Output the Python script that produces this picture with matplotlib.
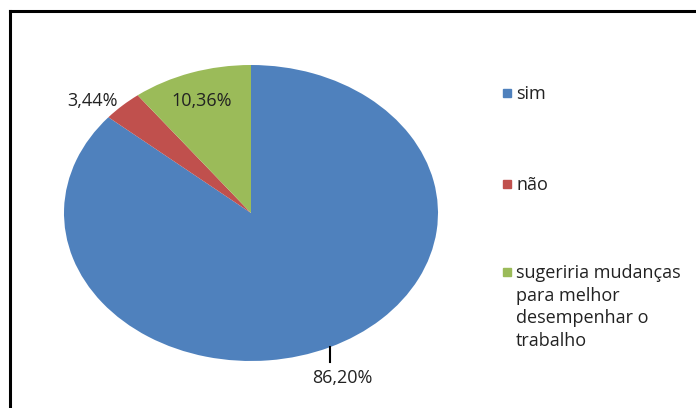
import numpy as np
import matplotlib
matplotlib.use("Agg")
import matplotlib.pyplot as plt
from matplotlib.lines import Line2D
from matplotlib.patches import Rectangle

# Respostas
labels = ["sim", "não", "sugeriria mudanças\npara melhor\ndesempenhar o\ntrabalho"]
values = [86.20, 3.44, 10.36]
pct_text = ["86,20%", "3,44%", "10,36%"]
colors = ["#4F81BD", "#C0504D", "#9BBB59"]

plt.rcParams["font.family"] = ["Open Sans", "DejaVu Sans"]
W, H = 696, 408
fig = plt.figure(figsize=(W / 100, H / 100), dpi=100)

def fx(px):
    return px / W

def fy(py):
    return 1 - py / H

# pie area (stretched horizontally like the original sheet)
ax = fig.add_axes([fx(64), fy(361), fx(438) - fx(64), fy(65) - fy(361)])
wedges, _ = ax.pie(values, colors=colors, startangle=90, counterclock=False,
                   radius=1, wedgeprops=dict(linewidth=0))
ax.set_aspect("auto")
ax.set_xlim(-1, 1)
ax.set_ylim(-1, 1)
ax.axis("off")

txt_color = "#222222"
fs = 13

def mid_angle(w):
    return np.deg2rad((w.theta1 + w.theta2) / 2)

# sim: leader line below the pie
a = mid_angle(wedges[0])
x0, y0 = np.cos(a), np.sin(a)
ax.plot([x0, x0], [y0, y0 - 0.1], color="black", lw=1.5, clip_on=False)
ax.text(x0 + 0.07, y0 - 0.21, pct_text[0], ha="center", va="center",
        fontsize=fs, color=txt_color, clip_on=False)

# não: outside label
a = mid_angle(wedges[1])
ax.text(1.17 * np.cos(a) - 0.04, 1.17 * np.sin(a) - 0.09, pct_text[1],
        ha="center", va="center", fontsize=fs, color=txt_color)

# sugeriria: inside label
a = mid_angle(wedges[2])
ax.text(0.8 * np.cos(a) - 0.01, 0.8 * np.sin(a), pct_text[2],
        ha="center", va="center", fontsize=fs, color=txt_color)

# legend
leg_y = [93, 184, 272]
for lab, c, yy in zip(labels, colors, leg_y):
    fig.patches.append(Rectangle((fx(503), fy(yy + 4)), fx(8), fy(yy - 4) - fy(yy + 4),
                                 transform=fig.transFigure, color=c))
    fig.text(fx(516), fy(yy - 8), lab, ha="left", va="top",
             fontsize=fs, color=txt_color, linespacing=1.33)

# chart frame
fig.add_artist(Line2D([fx(10), fx(10)], [fy(11), 0], color="black", lw=2.2))
fig.add_artist(Line2D([fx(10), 1], [fy(11), fy(11)], color="black", lw=2.2))

fig.savefig("out.png", dpi=100)
